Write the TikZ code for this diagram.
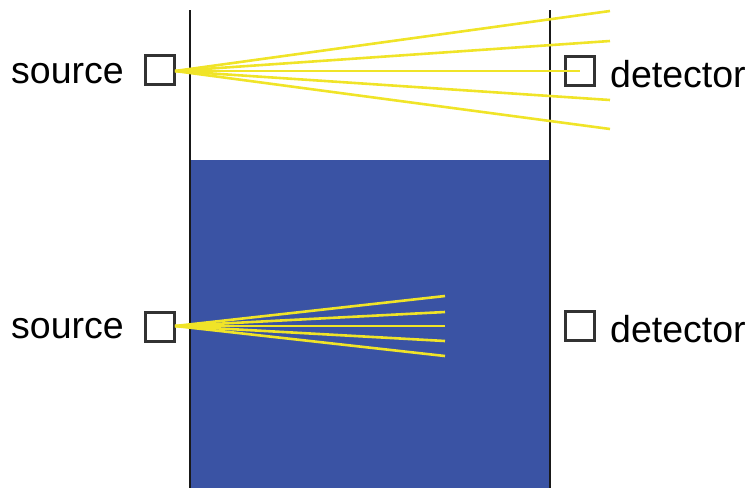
\documentclass[tikz,border=0pt]{standalone}
\usepackage{fontspec}
\setmainfont{Liberation Sans}
\definecolor{water}{RGB}{58,83,164}
\definecolor{ray}{RGB}{240,228,40}
\definecolor{boxgray}{RGB}{50,50,50}
\begin{document}
\begin{tikzpicture}[x=1pt,y=-1pt,
  wall/.style={draw=black!90,line width=2.2pt},
  sqbox/.style={draw=boxgray,line width=2.4pt,minimum size=29pt,inner sep=0pt},
  beam/.style={draw=ray,line width=2.6pt},
  lbl/.style={font=\fontsize{37.5}{42}\selectfont,inner sep=0pt}]
\useasboundingbox (0,0) rectangle (749,488);
% water
\fill[water] (190,160) rectangle (550,488);
% walls
\coordinate (wlT) at (190,10); \coordinate (wlB) at (190,488);
\coordinate (wrT) at (550,10); \coordinate (wrB) at (550,488);
\draw[wall] (wlT) -- (wlB);
\draw[wall] (wrT) -- (wrB);
% boxes
\node[sqbox] (srcT) at (160,70) {};
\node[sqbox] (detT) at (580,71) {};
\node[sqbox] (srcB) at (160,327) {};
\node[sqbox] (detB) at (580,326) {};
% labels
\node[lbl,anchor=east] (lsT) at (124,74) {source};
\node[lbl,anchor=west] (ldT) at (610,74) {detector};
\node[lbl,anchor=east] (lsB) at (124,329) {source};
\node[lbl,anchor=west] (ldB) at (610,329) {detector};
% top rays
\coordinate (oT) at (175,71);
\coordinate (t1) at (610,11);
\coordinate (t2) at (610,41);
\coordinate (t4) at (610,100);
\coordinate (t5) at (610,129);
\draw[beam] (oT) -- (t1);
\draw[beam] (oT) -- (t2);
\draw[beam] (oT) -- (detT.center);
\draw[beam] (oT) -- (t4);
\draw[beam] (oT) -- (t5);
% bottom rays
\coordinate (oB) at (175,326);
\coordinate (b1) at (445,296);
\coordinate (b2) at (445,312);
\coordinate (b3) at (445,326);
\coordinate (b4) at (445,341);
\coordinate (b5) at (445,356);
\draw[beam] (oB) -- (b1);
\draw[beam] (oB) -- (b2);
\draw[beam] (oB) -- (b3);
\draw[beam] (oB) -- (b4);
\draw[beam] (oB) -- (b5);
\end{tikzpicture}
\end{document}
